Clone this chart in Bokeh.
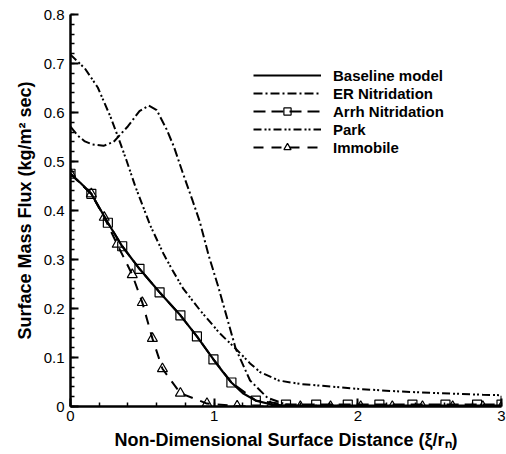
from bokeh.plotting import figure
from bokeh.models import (Range1d, SingleIntervalTicker, CustomJSTickFormatter,
                          Legend, LegendItem)
from bokeh.embed import file_html
from bokeh.resources import INLINE

# ---------------- data ----------------
baseline_x = [0.0, 0.07, 0.145, 0.2, 0.26, 0.36, 0.48, 0.62, 0.765, 0.88, 0.995,
              1.06, 1.12, 1.2, 1.29, 1.4, 1.5, 1.7, 2.0, 2.5, 3.0]
baseline_y = [0.475, 0.456, 0.434, 0.406, 0.375, 0.327, 0.281, 0.233, 0.186, 0.143, 0.096,
              0.071, 0.049, 0.027, 0.012, 0.004, 0.002, 0.002, 0.002, 0.002, 0.002]

er_x = [0.0, 0.05, 0.1, 0.15, 0.23, 0.3, 0.4, 0.48, 0.545, 0.6, 0.67, 0.72, 0.78,
        0.85, 0.9, 0.96, 1.03, 1.1, 1.15, 1.25, 1.37, 1.5, 1.6, 2.0, 2.5, 3.0]
er_y = [0.571, 0.553, 0.541, 0.535, 0.532, 0.54, 0.572, 0.603, 0.614, 0.605, 0.565, 0.53, 0.478,
        0.42, 0.377, 0.31, 0.243, 0.17, 0.118, 0.053, 0.018, 0.004, 0.002, 0.001, 0.001, 0.001]

arrh_x = [0.0, 0.145, 0.26, 0.36, 0.48, 0.62, 0.765, 0.88, 0.995, 1.12, 1.29,
          1.50, 1.71, 1.93, 2.15, 2.38, 2.61, 2.83, 3.0]
arrh_y = [0.475, 0.434, 0.375, 0.327, 0.281, 0.233, 0.186, 0.143, 0.096, 0.049, 0.012,
          0.004, 0.004, 0.004, 0.004, 0.004, 0.004, 0.004, 0.004]

park_x = [0.0, 0.1, 0.19, 0.28, 0.335, 0.39, 0.45, 0.556, 0.65, 0.71, 0.786, 0.9, 1.04,
          1.15, 1.25, 1.32, 1.45, 1.6, 1.72, 2.0, 2.27, 2.5, 2.87, 3.0, 3.0]
park_y = [0.718, 0.69, 0.651, 0.59, 0.547, 0.502, 0.45, 0.369, 0.31, 0.278, 0.24, 0.197, 0.149,
          0.118, 0.088, 0.07, 0.053, 0.046, 0.043, 0.036, 0.031, 0.028, 0.024, 0.023, 0.0]

immobile_x = [0.0, 0.145, 0.235, 0.325, 0.43, 0.5, 0.57, 0.64, 0.765, 0.95, 1.16,
              1.39, 1.6, 1.81, 2.02, 2.24, 2.45, 2.66, 2.87, 3.0]
immobile_y = [0.475, 0.434, 0.386, 0.331, 0.269, 0.212, 0.139, 0.077, 0.027, 0.006, 0.001,
              0.0, 0.0, 0.0, 0.0, 0.0, 0.0, 0.0, 0.0, 0.0]

series_labels = ["Baseline model", "ER Nitridation", "Arrh Nitridation", "Park", "Immobile"]
x_title = "Non-Dimensional Surface Distance (\u03be/r\u2099)"
y_title = "Surface Mass Flux (kg/m\u00b2 sec)"

# ---------------- figure ----------------
FONT = "Liberation Sans"
p = figure(width=506, height=454, output_backend="svg", toolbar_location=None,
           x_range=Range1d(0, 3), y_range=Range1d(0, 0.8),
           min_border_left=70, min_border_right=5, min_border_top=14, min_border_bottom=48)
p.outline_line_color = None
p.grid.visible = False
p.background_fill_color = "white"
p.border_fill_color = "white"

p.xaxis.ticker = SingleIntervalTicker(interval=1, num_minor_ticks=5)
p.yaxis.ticker = SingleIntervalTicker(interval=0.1, num_minor_ticks=5)
p.yaxis.formatter = CustomJSTickFormatter(
    code="return (Math.abs(tick) < 1e-9) ? '0' : tick.toFixed(1);")

for ax in (p.xaxis[0], p.yaxis[0]):
    ax.axis_line_width = 2.5
    ax.axis_line_color = "black"
    ax.major_tick_in = 8
    ax.major_tick_out = 0
    ax.minor_tick_in = 4
    ax.minor_tick_out = 0
    ax.major_tick_line_width = 2
    ax.minor_tick_line_width = 1.5
    ax.major_tick_line_color = "black"
    ax.minor_tick_line_color = "black"
    ax.major_label_text_font = FONT
    ax.major_label_text_font_size = "15px"
    ax.major_label_text_color = "black"
    ax.axis_label_text_font = FONT
    ax.axis_label_text_font_size = "18px"
    ax.axis_label_text_font_style = "bold"
    ax.axis_label_text_color = "black"

p.xaxis.axis_label = x_title
p.yaxis.axis_label = y_title
p.xaxis.major_label_standoff = 4
p.xaxis.axis_label_standoff = 6
p.yaxis.major_label_standoff = 6
p.yaxis.axis_label_standoff = 6

LW = 2
r_base = p.line(baseline_x, baseline_y, line_color="black", line_width=2.2)
r_er = p.line(er_x, er_y, line_color="black", line_width=LW, line_dash="9 3 2 3")
r_arrh = p.line(arrh_x, arrh_y, line_color="black", line_width=LW, line_dash="12 6")
r_arrh_m = p.scatter(arrh_x, arrh_y, marker="square", size=9, line_color="black",
                     line_width=1.2, fill_alpha=0)
r_park = p.line(park_x, park_y, line_color="black", line_width=LW, line_dash="8 3 2 2 2 3")
r_imm = p.line(immobile_x, immobile_y, line_color="black", line_width=LW, line_dash="10 8")
r_imm_m = p.scatter(immobile_x, immobile_y, marker="triangle", size=10, line_color="black",
                    line_width=1.2, fill_alpha=0)

items = [
    LegendItem(label=series_labels[0], renderers=[r_base]),
    LegendItem(label=series_labels[1], renderers=[r_er]),
    LegendItem(label=series_labels[2], renderers=[r_arrh, r_arrh_m]),
    LegendItem(label=series_labels[3], renderers=[r_park]),
    LegendItem(label=series_labels[4], renderers=[r_imm, r_imm_m]),
]
legend = Legend(items=items, location=(183, 250), orientation="vertical",
                glyph_width=68, glyph_height=18, label_height=18, label_standoff=12,
                spacing=0, padding=0, margin=0,
                border_line_alpha=0, background_fill_alpha=0,
                label_text_font=FONT, label_text_font_size="15px",
                label_text_font_style="bold", label_text_color="black")
p.add_layout(legend)

open("out.html", "w").write(file_html(p, INLINE))
